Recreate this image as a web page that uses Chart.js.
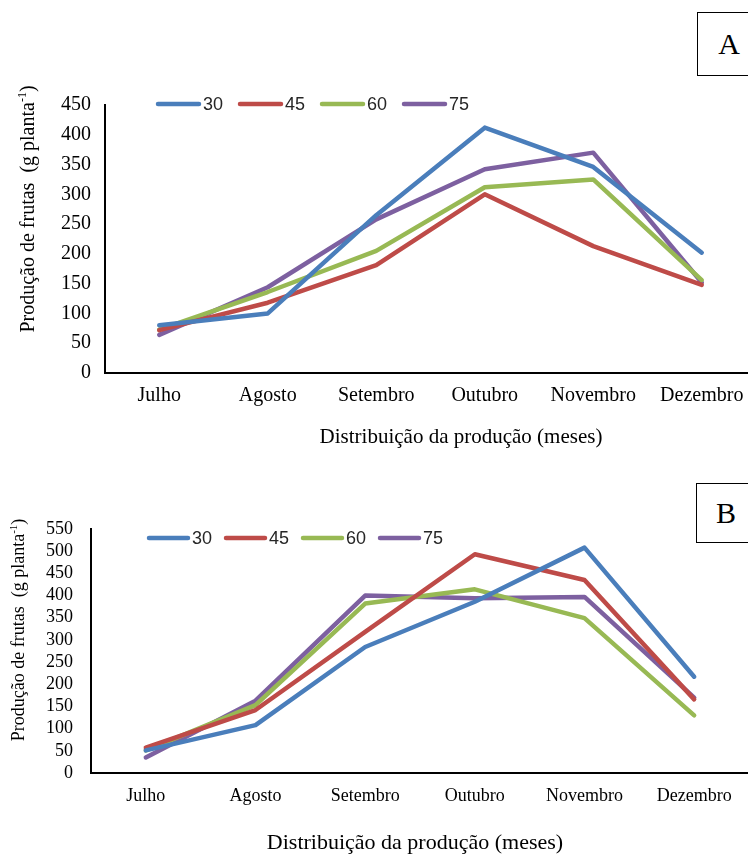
<!DOCTYPE html>
<html>
<head>
<meta charset="utf-8">
<script src="https://cdn.jsdelivr.net/npm/chart.js@4.4.1/dist/chart.umd.min.js"></script>
<style>
html,body{margin:0;padding:0;background:#fff;overflow:hidden;width:748px;height:854px;position:relative;}
#wrapA{position:absolute;left:0;top:0;width:760px;height:460px;}
#wrapB{position:absolute;left:0;top:470px;width:760px;height:384px;}
.tag{position:absolute;border:1.5px solid #000;background:#fff;font-family:"Liberation Serif","Times New Roman",serif;color:#000;display:flex;align-items:center;justify-content:center;box-sizing:border-box;line-height:1;}
</style>
</head>
<body>
<div id="wrapA"><canvas id="chartA"></canvas></div>
<div id="wrapB"><canvas id="chartB"></canvas></div>
<div class="tag" style="left:697px;top:12px;width:64px;height:64px;font-size:30px;">A</div>
<div class="tag" style="left:696px;top:483px;width:60px;height:60px;font-size:30px;">B</div>
<script>
// ---- data ----
const categories = ['Julho', 'Agosto', 'Setembro', 'Outubro', 'Novembro', 'Dezembro'];
const seriesNames = ['30', '45', '60', '75'];
const seriesColors = ['#4A7EBB', '#BE4B48', '#98B954', '#7D60A0'];

// Chart A
const a30 = [80, 100, 265, 412, 346, 202];
const a45 = [72, 118, 181, 300, 213, 148];
const a60 = [73, 136, 205, 312, 325, 156];
const a75 = [64, 144, 258, 342, 370, 152];
const yTicksA = [0, 50, 100, 150, 200, 250, 300, 350, 400, 450];

// Chart B
const b30 = [51, 108, 284, 386, 508, 217];
const b45 = [57, 142, 318, 493, 435, 166];
const b60 = [51, 153, 382, 414, 349, 130];
const b75 = [35, 163, 400, 394, 397, 170];
const yTicksB = [0, 50, 100, 150, 200, 250, 300, 350, 400, 450, 500, 550];

const yTitleMain = 'Produção de frutas  (g planta';
const yTitleSup = '-1';
const yTitleEnd = ')';
const xTitle = 'Distribuição da produção (meses)';

const SERIF = '"Liberation Serif", "Times New Roman", serif';
const SANS = '"Liberation Sans", Arial, sans-serif';

function makeDatasets(arrs) {
  return arrs.map((d, i) => ({
    label: seriesNames[i],
    data: d,
    borderColor: seriesColors[i],
    backgroundColor: seriesColors[i],
    borderWidth: 4.5,
    pointRadius: 0,
    pointHoverRadius: 0,
    tension: 0,
    fill: false,
    borderCapStyle: 'round',
    borderJoinStyle: 'round'
  }));
}

const decor = {
  id: 'decor',
  afterDraw(chart, args, o) {
    const ctx = chart.ctx;
    ctx.save();
    // legend
    chart.data.datasets.forEach((ds, i) => {
      const x0 = o.legendX + i * o.legendStep;
      ctx.strokeStyle = ds.borderColor;
      ctx.lineWidth = 4.5;
      ctx.lineCap = 'round';
      ctx.beginPath();
      ctx.moveTo(x0, o.legendY);
      ctx.lineTo(x0 + o.legendLen, o.legendY);
      ctx.stroke();
      ctx.fillStyle = '#262626';
      ctx.font = o.legendFont;
      ctx.textAlign = 'left';
      ctx.textBaseline = 'middle';
      ctx.fillText(ds.label, x0 + o.legendLen + 4, o.legendY + 1);
    });
    // x title
    ctx.fillStyle = '#000';
    ctx.font = o.xTitleSize + 'px ' + SERIF;
    ctx.textAlign = 'center';
    ctx.textBaseline = 'middle';
    ctx.fillText(xTitle, o.xTitleX, o.xTitleY);
    // y title (rotated, with superscript)
    ctx.translate(o.yTitleX, o.yTitleY);
    ctx.rotate(-Math.PI / 2);
    const fMain = o.yTitleSize + 'px ' + SERIF;
    const fSup = Math.round(o.yTitleSize * 0.62) + 'px ' + SERIF;
    ctx.font = fMain;
    const w1 = ctx.measureText(yTitleMain).width;
    const w3 = ctx.measureText(yTitleEnd).width;
    ctx.font = fSup;
    const w2 = ctx.measureText(yTitleSup).width;
    let x = -(w1 + w2 + w3) / 2;
    ctx.textAlign = 'left';
    ctx.textBaseline = 'alphabetic';
    const base = o.yTitleSize * 0.33;
    ctx.font = fMain;
    ctx.fillText(yTitleMain, x, base);
    x += w1;
    ctx.font = fSup;
    ctx.fillText(yTitleSup, x, base - o.yTitleSize * 0.4);
    x += w2;
    ctx.font = fMain;
    ctx.fillText(yTitleEnd, x, base);
    ctx.restore();
  }
};

function makeChart(id, arrs, ticks, cfg) {
  return new Chart(document.getElementById(id), {
    type: 'line',
    data: { labels: categories, datasets: makeDatasets(arrs) },
    plugins: [decor],
    options: {
      responsive: true,
      maintainAspectRatio: false,
      animation: false,
      events: [],
      layout: { padding: { top: cfg.padTop, right: cfg.padRight, left: 0, bottom: 0 } },
      plugins: {
        legend: { display: false },
        tooltip: { enabled: false },
        decor: cfg.decor
      },
      scales: {
        x: {
          type: 'category',
          offset: true,
          grid: { display: false, drawTicks: false },
          border: { display: true, color: '#000', width: 2 },
          ticks: { color: '#000', font: { family: SERIF, size: cfg.xFont }, padding: cfg.xPad, maxRotation: 0, autoSkip: false },
          afterFit: s => { s.height = cfg.xHeight; }
        },
        y: {
          min: 0,
          max: ticks[ticks.length - 1],
          grid: { display: false, drawTicks: false },
          border: { display: true, color: '#000', width: 2 },
          ticks: { color: '#000', font: { family: SERIF, size: cfg.yFont, lineHeight: 1 }, padding: cfg.yPad, autoSkip: false },
          afterBuildTicks: s => { s.ticks = ticks.map(v => ({ value: v })); },
          afterFit: s => { s.width = cfg.yWidth; }
        }
      }
    }
  });
}

makeChart('chartA', [a30, a45, a60, a75], yTicksA, {
  padTop: 105, padRight: 4, xHeight: 87, yWidth: 105,
  xFont: 20, yFont: 20, xPad: 11, yPad: 14,
  decor: {
    legendX: 158, legendY: 104, legendLen: 41, legendStep: 82, legendFont: '18px ' + SANS,
    xTitleX: 461, xTitleY: 437, xTitleSize: 21,
    yTitleX: 27, yTitleY: 209, yTitleSize: 20
  }
});

makeChart('chartB', [b30, b45, b60, b75], yTicksB, {
  padTop: 59, padRight: 11, xHeight: 81, yWidth: 91,
  xFont: 18, yFont: 18, xPad: 12, yPad: 18,
  decor: {
    legendX: 149, legendY: 68, legendLen: 39, legendStep: 77, legendFont: '18px ' + SANS,
    xTitleX: 415, xTitleY: 373, xTitleSize: 22,
    yTitleX: 18, yTitleY: 160, yTitleSize: 18
  }
});
</script>
</body>
</html>
